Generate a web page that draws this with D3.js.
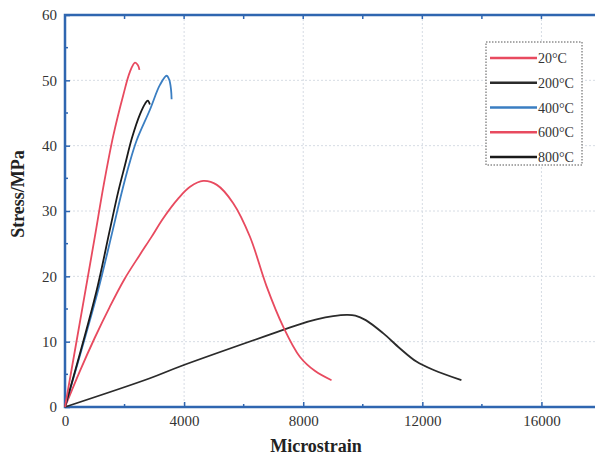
<!DOCTYPE html>
<html>
<head>
<meta charset="utf-8">
<script src="https://cdn.jsdelivr.net/npm/d3@7"></script>
<style>
  body { margin: 0; background: #fff; }
  svg { display: block; }
  text { font-family: "Liberation Serif", "Times New Roman", serif; }
</style>
</head>
<body>
<svg id="chart" width="595" height="459"></svg>
<script>
// ---- data ----
const seriesNames = ["20°C", "200°C", "400°C", "600°C", "800°C"];
const seriesColors = ["#e84a5f", "#2b2b2b", "#3a7ec2", "#e84a5f", "#1a1a1a"];

const strain20 = [0, 670, 1000, 1300, 1620, 1960, 2180, 2350, 2450, 2500];
const stress20 = [0, 17.4, 26, 34, 41.5, 47.8, 51.3, 52.7, 52.3, 51.6];

const strain200 = [0, 2852, 3859, 7327, 7900, 8450, 9004, 9453, 9750, 10100, 10682, 11242, 11801, 12360, 13312];
const stress200 = [0, 4.4, 6.2, 11.8, 12.7, 13.4, 13.9, 14.1, 14.0, 13.3, 11.3, 9.0, 6.95, 5.7, 4.1];

const strain400 = [0, 1085, 1600, 1902, 2158, 2405, 2852, 3188, 3412, 3500, 3560, 3580];
const stress400 = [0, 17.4, 27, 32.8, 37.2, 40.8, 45.5, 49.3, 50.7, 50.1, 48.6, 47.1];

const strain600 = [0, 500, 1000, 1500, 2000, 2500, 2900, 3300, 3800, 4200, 4641, 5100, 5649, 6208, 6767, 7327, 7886, 8400, 8950];
const stress600 = [0, 5.5, 10.6, 15.3, 19.6, 23.2, 26, 28.9, 31.9, 33.7, 34.6, 34, 31.2, 26.1, 18.5, 12.3, 7.7, 5.5, 4.1];

const strain800 = [0, 1040, 1500, 1790, 2013, 2250, 2517, 2700, 2780, 2850];
const stress800 = [0, 17.4, 27, 33, 37, 41.2, 44.8, 46.5, 46.9, 46.3];

const xTicks = [0, 4000, 8000, 12000, 16000];
const yTicks = [0, 10, 20, 30, 40, 50, 60];
const xMinor = [2000, 6000, 10000, 14000];
const yMinor = [5, 15, 25, 35, 45, 55];

// ---- layout ----
const svg = d3.select("#chart");
const pL = 65, pR = 601, pT = 15, pB = 407;
const x = d3.scaleLinear().domain([0, 18000]).range([pL, pR]);
const y = d3.scaleLinear().domain([0, 60]).range([pB, pT]);
const axisColor = "#2f66b0";

// grid
const grid = svg.append("g");
grid.selectAll(".gx").data(xTicks.slice(1)).enter().append("line")
  .attr("x1", d => x(d)).attr("x2", d => x(d)).attr("y1", pT).attr("y2", pB)
  .attr("stroke", "#d6dce4").attr("stroke-width", 1).attr("stroke-dasharray", "2,2");
grid.selectAll(".gy").data(yTicks.slice(1, -1)).enter().append("line")
  .attr("x1", pL).attr("x2", pR).attr("y1", d => y(d)).attr("y2", d => y(d))
  .attr("stroke", "#d6dce4").attr("stroke-width", 1).attr("stroke-dasharray", "2,2");

// axes
const xAxis = d3.axisBottom(x).tickValues(xTicks).tickSize(-5).tickPadding(8).tickFormat(d3.format("d"));
const yAxis = d3.axisLeft(y).tickValues(yTicks).tickSize(-5).tickPadding(8);

const gx = svg.append("g").attr("transform", `translate(0,${pB})`).call(xAxis);
const gy = svg.append("g").attr("transform", `translate(${pL},0)`).call(yAxis);
[gx, gy].forEach(g => {
  g.select(".domain").remove();
  g.selectAll(".tick line").attr("stroke", axisColor).attr("stroke-width", 1.5);
  g.selectAll(".tick text").attr("font-size", 15).attr("fill", "#333")
    .style("font-family", "'Liberation Serif', serif");
});
// minor ticks
svg.append("g").selectAll("line").data(xMinor).enter().append("line")
  .attr("x1", d => x(d)).attr("x2", d => x(d)).attr("y1", pB).attr("y2", pB - 3)
  .attr("stroke", axisColor).attr("stroke-width", 1.5);
svg.append("g").selectAll("line").data(yMinor).enter().append("line")
  .attr("x1", pL).attr("x2", pL + 3).attr("y1", d => y(d)).attr("y2", d => y(d))
  .attr("stroke", axisColor).attr("stroke-width", 1.5);
// top ticks
svg.append("g").selectAll("line").data(xTicks.concat(xMinor)).enter().append("line")
  .attr("x1", d => x(d)).attr("x2", d => x(d)).attr("y1", pT).attr("y2", pT + 4)
  .attr("stroke", axisColor).attr("stroke-width", 1.5);

// frame
svg.append("rect").attr("x", pL).attr("y", pT).attr("width", pR - pL).attr("height", pB - pT)
  .attr("fill", "none").attr("stroke", axisColor).attr("stroke-width", 2.5);

// curves
const allSeries = [
  {name: seriesNames[0], color: seriesColors[0], xs: strain20, ys: stress20},
  {name: seriesNames[1], color: seriesColors[1], xs: strain200, ys: stress200},
  {name: seriesNames[2], color: seriesColors[2], xs: strain400, ys: stress400},
  {name: seriesNames[3], color: seriesColors[3], xs: strain600, ys: stress600},
  {name: seriesNames[4], color: seriesColors[4], xs: strain800, ys: stress800}
];
const line = d3.line().x(d => x(d[0])).y(d => y(d[1])).curve(d3.curveCatmullRom.alpha(0.5));
const drawOrder = [1, 3, 2, 4, 0];
drawOrder.forEach(i => {
  const s = allSeries[i];
  svg.append("path").datum(s.xs.map((v, k) => [v, s.ys[k]]))
    .attr("d", line).attr("fill", "none").attr("stroke", s.color)
    .attr("stroke-width", 1.8).attr("stroke-linejoin", "round");
});

// axis titles
svg.append("text").attr("x", 316).attr("y", 452).attr("text-anchor", "middle")
  .attr("font-size", 18).attr("font-weight", "bold").attr("fill", "#222").text("Microstrain");
svg.append("text").attr("transform", "translate(24,194) rotate(-90)").attr("text-anchor", "middle")
  .attr("font-size", 18).attr("font-weight", "bold").attr("fill", "#222").text("Stress/MPa");

// legend
const lg = svg.append("g");
lg.append("rect").attr("x", 486).attr("y", 42).attr("width", 96).attr("height", 123)
  .attr("fill", "#fff").attr("stroke", "#555").attr("stroke-width", 1).attr("stroke-dasharray", "1.5,1.5");
const legY = d3.scalePoint().domain(seriesNames).range([58, 157]);
allSeries.forEach(s => {
  lg.append("line").attr("x1", 490).attr("x2", 537).attr("y1", legY(s.name)).attr("y2", legY(s.name))
    .attr("stroke", s.color).attr("stroke-width", 2.5);
  lg.append("text").attr("x", 538).attr("y", legY(s.name) + 5).attr("font-size", 14)
    .attr("fill", "#333").text(s.name);
});
</script>
</body>
</html>
